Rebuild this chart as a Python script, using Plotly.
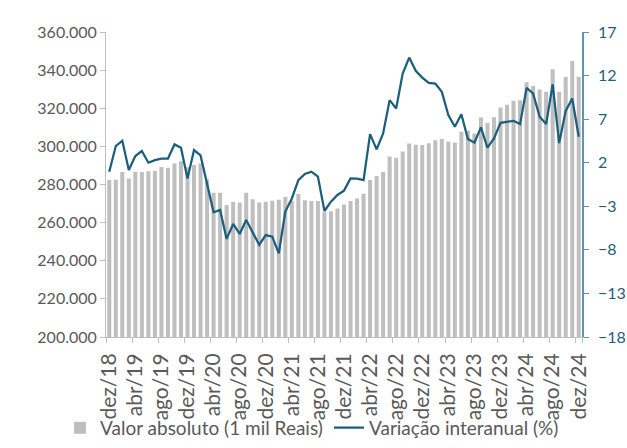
import plotly.graph_objects as go

meses = ["jan", "fev", "mar", "abr", "mai", "jun", "jul", "ago", "set", "out", "nov", "dez"]
categorias = ["dez/18"] + [f"{m}/{a}" for a in range(19, 25) for m in meses]
rotulos_x = categorias[::4]

valor_absoluto = [
    282350, 282500, 286540, 283200, 286700, 286540, 286900, 287060, 289150, 288800, 291080, 292200,
    289000, 290200, 291000, 282700, 275700, 275700, 269300, 270800, 270500, 275700, 272200, 270600,
    271000, 271500, 272000, 273500, 271500, 275000, 271800, 271350, 271350, 265500, 266000, 267400,
    269500, 271300, 272700, 275200, 282300, 284400, 286500, 294700, 294000, 297300, 301500, 300800,
    300700, 301700, 303200, 303900, 302600, 302070, 307660, 308360, 306800, 315160, 312370, 315340,
    320400, 321800, 323890, 324240, 333700, 331700, 329820, 328600, 340470, 328600, 336450, 344750,
    336450,
]

variacao = [
    0.97, 3.91, 4.52, 1.16, 2.76, 3.34, 2.0, 2.3, 2.46, 2.46, 4.1, 3.72,
    0.2, 3.45, 2.84, -0.5, -3.69, -3.42, -6.74, -5.03, -6.17, -4.57, -6.02, -7.43,
    -6.3, -6.48, -8.4, -3.6, -2.1, 0.0, 0.7, 0.97, 0.4, -3.54, -2.47, -1.7,
    -1.2, 0.2, 0.17, 0.0, 5.28, 3.53, 5.36, 9.18, 8.22, 12.23, 14.06, 12.54,
    11.77, 11.16, 11.08, 10.13, 7.46, 6.12, 7.57, 4.71, 4.29, 6.05, 3.72, 4.79,
    6.58, 6.73, 6.81, 6.43, 10.59, 9.94, 7.27, 6.43, 11.0, 4.25, 7.95, 9.37,
    4.98,
]

ticks_esq = [200000, 220000, 240000, 260000, 280000, 300000, 320000, 340000, 360000]
ticks_dir = [-18, -13, -8, -3, 2, 7, 12, 17]

FONT = "Lato"
CINZA_TXT = "#595959"
AZUL = "#1b5e7d"

fig = go.Figure()
fig.add_trace(go.Bar(
    x=categorias, y=valor_absoluto, name="Valor absoluto (1 mil Reais)",
    marker=dict(color="#bfbfbf", line=dict(width=0)),
    yaxis="y", legend="legend",
))
fig.add_trace(go.Scatter(
    x=categorias, y=variacao, name="Variação interanual (%)",
    mode="lines", line=dict(color=AZUL, width=2.25),
    yaxis="y2", legend="legend2",
))

leg_common = dict(
    orientation="h", xref="container", yref="container",
    xanchor="left", y=0.045, yanchor="middle",
    font=dict(family=FONT, size=19, color=CINZA_TXT),
    itemwidth=30, bgcolor="rgba(0,0,0,0)",
)

fig.update_layout(
    width=627, height=448,
    margin=dict(l=106, r=45, t=32, b=111, autoexpand=False),
    paper_bgcolor="white", plot_bgcolor="white",
    separators=",.",
    bargap=0.38,
    font=dict(family=FONT, size=16, color=CINZA_TXT),
    showlegend=True,
    legend=dict(x=0.0957, **leg_common),
    legend2=dict(x=0.5247, **leg_common),
    xaxis=dict(
        type="category", categoryorder="array", categoryarray=categorias,
        tickmode="array", tickvals=rotulos_x, ticktext=rotulos_x,
        tickson="boundaries", ticks="outside", ticklen=5, tickcolor="#bfbfbf",
        tickangle=-90, showgrid=False, showline=True, linecolor="#bfbfbf", linewidth=1,
        tickfont=dict(family=FONT, size=21, color=CINZA_TXT),
        ticklabelstandoff=7,
        range=[-0.5, 72.5], zeroline=False,
    ),
    yaxis=dict(
        range=[200000, 360000], tickmode="array", tickvals=ticks_esq,
        tickformat=",.0f", ticks="outside", ticklen=5, tickcolor="#bfbfbf",
        showline=True, linecolor="#bfbfbf", linewidth=1, showgrid=False, zeroline=False,
        tickfont=dict(family=FONT, size=16, color=CINZA_TXT),
    ),
    yaxis2=dict(
        overlaying="y", side="right", range=[-18, 17], tickmode="array", tickvals=ticks_dir,
        ticks="outside", ticklen=5, tickcolor="#5a97ad",
        showline=True, linecolor="#5a97ad", linewidth=1.5, showgrid=False, zeroline=False,
        tickfont=dict(family=FONT, size=16, color="#1f5f7c"),
        ticklabelstandoff=6,
    ),
)

fig.write_html(
    "out.html",
    config={"displayModeBar": False},
    post_script="document.body.style.margin='0';document.body.style.overflow='hidden';",
)
